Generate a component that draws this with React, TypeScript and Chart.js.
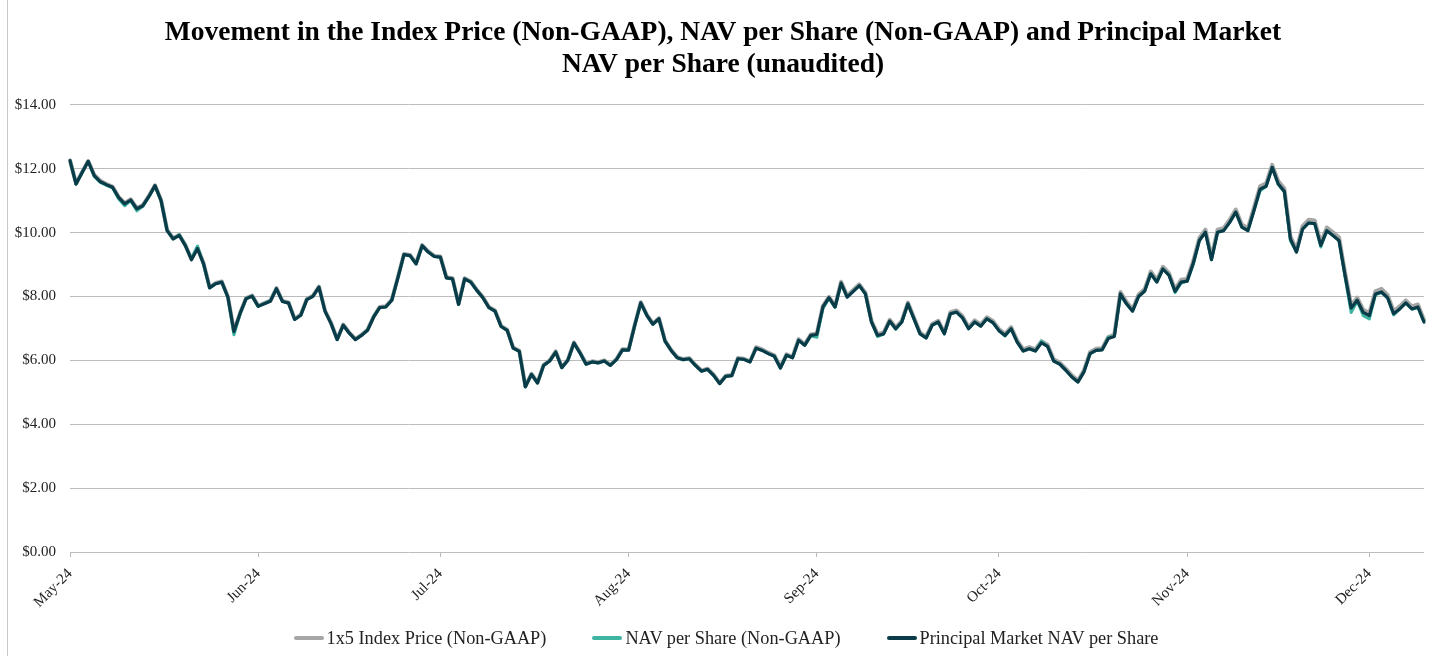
import React, { useEffect, useRef } from "react";
import { Chart, registerables } from "chart.js";

Chart.register(...registerables);

const TITLE_LINES = [
  "Movement in the Index Price (Non-GAAP), NAV per Share (Non-GAAP) and Principal Market",
  "NAV per Share (unaudited)",
];
const SERIES_NAMES = [
  "1x5 Index Price (Non-GAAP)",
  "NAV per Share (Non-GAAP)",
  "Principal Market NAV per Share",
];
const START_DATE = "2024-05-01";
const MONTH_TICK_LABELS = ["May-24", "Jun-24", "Jul-24", "Aug-24", "Sep-24", "Oct-24", "Nov-24", "Dec-24"];
const Y_MIN = 0;
const Y_MAX = 14;
const Y_STEP = 2;

const INDEX_PRICE = [
  12.26, 11.54, 11.90, 12.24, 11.80, 11.62, 11.52, 11.44, 11.12, 10.93,
  11.04, 10.77, 10.86, 11.15, 11.48, 11.02, 10.08, 9.82, 9.93, 9.61,
  9.17, 9.52, 9.04, 8.29, 8.42, 8.47, 8.00, 6.92, 7.48, 7.95,
  8.03, 7.71, 7.79, 7.87, 8.26, 7.86, 7.81, 7.30, 7.43, 7.92,
  8.02, 8.31, 7.56, 7.17, 6.67, 7.12, 6.87, 6.67, 6.80, 6.96,
  7.37, 7.67, 7.69, 7.90, 8.60, 9.33, 9.30, 9.04, 9.61, 9.41,
  9.27, 9.25, 8.60, 8.57, 7.77, 8.57, 8.47, 8.21, 7.98, 7.67,
  7.56, 7.08, 6.96, 6.40, 6.30, 5.19, 5.58, 5.31, 5.86, 6.00,
  6.28, 5.79, 6.02, 6.56, 6.25, 5.90, 5.97, 5.94, 6.00, 5.86,
  6.04, 6.35, 6.34, 7.11, 7.82, 7.43, 7.15, 7.32, 6.62, 6.33,
  6.10, 6.04, 6.07, 5.86, 5.68, 5.74, 5.55, 5.29, 5.52, 5.54,
  6.07, 6.05, 5.97, 6.41, 6.34, 6.24, 6.16, 5.79, 6.19, 6.11,
  6.66, 6.50, 6.81, 6.84, 7.70, 7.99, 7.70, 8.46, 8.02, 8.20,
  8.38, 8.12, 7.24, 6.82, 6.87, 7.27, 7.03, 7.24, 7.81, 7.34,
  6.87, 6.74, 7.14, 7.24, 6.87, 7.51, 7.56, 7.38, 7.04, 7.25,
  7.12, 7.35, 7.23, 6.98, 6.83, 7.04, 6.62, 6.34, 6.41, 6.34,
  6.60, 6.49, 6.03, 5.93, 5.74, 5.53, 5.37, 5.69, 6.26, 6.36,
  6.38, 6.73, 6.81, 8.14, 7.83, 7.60, 8.06, 8.23, 8.78, 8.52,
  8.93, 8.73, 8.23, 8.52, 8.55, 9.11, 9.83, 10.09, 9.23, 10.09,
  10.14, 10.40, 10.72, 10.25, 10.14, 10.78, 11.45, 11.54, 12.12, 11.61,
  11.38, 9.88, 9.47, 10.20, 10.40, 10.38, 9.69, 10.16, 10.01, 9.85,
  8.75, 7.72, 7.96, 7.58, 7.48, 8.16, 8.24, 8.05, 7.54, 7.69,
  7.88, 7.69, 7.75, 7.26,
];

const NAV_PER_SHARE = [
  12.25, 11.52, 11.88, 12.23, 11.75, 11.57, 11.48, 11.40, 11.06, 10.84,
  11.00, 10.68, 10.82, 11.12, 11.46, 11.00, 10.06, 9.80, 9.93, 9.60,
  9.18, 9.58, 9.00, 8.27, 8.40, 8.45, 7.98, 6.80, 7.44, 7.93,
  8.01, 7.69, 7.78, 7.87, 8.24, 7.84, 7.80, 7.28, 7.41, 7.90,
  8.00, 8.29, 7.54, 7.15, 6.65, 7.10, 6.85, 6.65, 6.78, 6.94,
  7.37, 7.65, 7.67, 7.88, 8.58, 9.31, 9.28, 9.02, 9.59, 9.39,
  9.25, 9.23, 8.58, 8.55, 7.75, 8.55, 8.45, 8.19, 7.96, 7.65,
  7.54, 7.06, 6.94, 6.38, 6.28, 5.17, 5.56, 5.29, 5.84, 5.98,
  6.26, 5.77, 6.00, 6.54, 6.23, 5.88, 5.95, 5.92, 5.98, 5.84,
  6.02, 6.33, 6.32, 7.09, 7.80, 7.41, 7.13, 7.30, 6.60, 6.31,
  6.08, 6.02, 6.05, 5.84, 5.66, 5.72, 5.53, 5.27, 5.50, 5.52,
  6.05, 6.03, 5.95, 6.38, 6.31, 6.21, 6.13, 5.76, 6.16, 6.08,
  6.63, 6.47, 6.76, 6.72, 7.62, 7.94, 7.66, 8.40, 7.98, 8.16,
  8.34, 8.08, 7.20, 6.74, 6.82, 7.22, 6.97, 7.20, 7.77, 7.30,
  6.83, 6.70, 7.10, 7.18, 6.83, 7.46, 7.51, 7.33, 6.99, 7.20,
  7.07, 7.30, 7.18, 6.93, 6.76, 6.99, 6.57, 6.29, 6.36, 6.29,
  6.60, 6.44, 5.98, 5.88, 5.69, 5.48, 5.32, 5.64, 6.21, 6.31,
  6.33, 6.72, 6.75, 8.02, 7.77, 7.54, 8.00, 8.17, 8.71, 8.45,
  8.86, 8.68, 8.12, 8.42, 8.48, 9.00, 9.75, 10.01, 9.15, 10.01,
  10.06, 10.32, 10.64, 10.17, 10.06, 10.69, 11.30, 11.45, 12.04, 11.50,
  11.27, 9.74, 9.39, 10.11, 10.30, 10.28, 9.55, 10.06, 9.91, 9.75,
  8.60, 7.50, 7.85, 7.40, 7.30, 8.05, 8.12, 7.96, 7.42, 7.61,
  7.80, 7.60, 7.65, 7.20,
];

const PRINCIPAL_MARKET_NAV = [
  12.25, 11.52, 11.88, 12.23, 11.78, 11.59, 11.50, 11.42, 11.10, 10.90,
  11.02, 10.74, 10.84, 11.13, 11.47, 11.00, 10.06, 9.80, 9.91, 9.59,
  9.15, 9.50, 9.02, 8.27, 8.40, 8.45, 7.98, 6.90, 7.46, 7.93,
  8.01, 7.69, 7.77, 7.85, 8.24, 7.84, 7.79, 7.28, 7.41, 7.90,
  8.00, 8.29, 7.54, 7.15, 6.65, 7.10, 6.85, 6.65, 6.78, 6.94,
  7.35, 7.65, 7.67, 7.88, 8.58, 9.31, 9.28, 9.02, 9.59, 9.39,
  9.25, 9.23, 8.58, 8.55, 7.75, 8.55, 8.45, 8.19, 7.96, 7.65,
  7.54, 7.06, 6.94, 6.38, 6.28, 5.17, 5.56, 5.29, 5.84, 5.98,
  6.26, 5.77, 6.00, 6.54, 6.23, 5.88, 5.95, 5.92, 5.98, 5.84,
  6.02, 6.33, 6.32, 7.09, 7.80, 7.41, 7.13, 7.30, 6.60, 6.31,
  6.08, 6.02, 6.05, 5.84, 5.66, 5.72, 5.53, 5.27, 5.50, 5.52,
  6.05, 6.03, 5.95, 6.38, 6.31, 6.21, 6.13, 5.76, 6.16, 6.08,
  6.63, 6.47, 6.78, 6.81, 7.67, 7.96, 7.67, 8.42, 7.98, 8.16,
  8.34, 8.08, 7.20, 6.78, 6.83, 7.23, 6.99, 7.20, 7.77, 7.30,
  6.83, 6.70, 7.10, 7.20, 6.83, 7.46, 7.51, 7.33, 6.99, 7.20,
  7.07, 7.30, 7.18, 6.93, 6.78, 6.99, 6.57, 6.29, 6.36, 6.29,
  6.55, 6.44, 5.98, 5.88, 5.69, 5.48, 5.32, 5.64, 6.21, 6.31,
  6.33, 6.68, 6.75, 8.08, 7.77, 7.54, 8.00, 8.17, 8.71, 8.45,
  8.86, 8.66, 8.16, 8.45, 8.48, 9.04, 9.75, 10.01, 9.15, 10.01,
  10.06, 10.32, 10.64, 10.17, 10.06, 10.69, 11.36, 11.45, 12.04, 11.52,
  11.29, 9.80, 9.39, 10.11, 10.30, 10.28, 9.60, 10.06, 9.91, 9.75,
  8.66, 7.64, 7.88, 7.50, 7.40, 8.08, 8.14, 7.96, 7.46, 7.61,
  7.80, 7.61, 7.67, 7.20,
];

const SERIF = "'Liberation Serif', 'Times New Roman', 'DejaVu Serif', serif";
const SERIES_COLORS = ["#a6a6a6", "#3db5a1", "#0a3b49"];
const SERIES_WIDTHS = [4, 3, 3.2];

function buildDates(n: number): string[] {
  const start = new Date(START_DATE + "T00:00:00Z").getTime();
  const out: string[] = [];
  for (let i = 0; i < n; i++) {
    out.push(new Date(start + i * 86400000).toISOString().slice(0, 10));
  }
  return out;
}

export default function App() {
  const canvasRef = useRef<HTMLCanvasElement | null>(null);

  useEffect(() => {
    if (!canvasRef.current) return;
    const dates = buildDates(PRINCIPAL_MARKET_NAV.length);
    const startMonth = 5;
    const isMonthStart = (i: number) => !!dates[i] && dates[i].endsWith("-01");
    const monthLabel = (i: number) => {
      const m = parseInt(dates[i].slice(5, 7), 10);
      return MONTH_TICK_LABELS[m - startMonth] || "";
    };
    const seriesData = [INDEX_PRICE, NAV_PER_SHARE, PRINCIPAL_MARKET_NAV];

    const chart = new Chart(canvasRef.current, {
      type: "line",
      data: {
        labels: dates,
        datasets: seriesData.map((d, k) => ({
          label: SERIES_NAMES[k],
          data: d,
          borderColor: SERIES_COLORS[k],
          backgroundColor: SERIES_COLORS[k],
          borderWidth: SERIES_WIDTHS[k],
          order: 3 - k,
        })),
      },
      options: {
        animation: false,
        responsive: true,
        maintainAspectRatio: false,
        elements: {
          point: { radius: 0, hoverRadius: 0 },
          line: { tension: 0, borderJoinStyle: "round", borderCapStyle: "round" },
        },
        layout: { padding: { left: 6, right: 0, top: 0, bottom: 0 } },
        scales: {
          x: {
            type: "category",
            offset: false,
            border: { display: false },
            grid: {
              display: true,
              drawOnChartArea: false,
              drawTicks: true,
              tickLength: 5,
              color: (ctx: any) => (isMonthStart(ctx.index) ? "#b8b8b8" : "rgba(0,0,0,0)"),
            },
            ticks: {
              autoSkip: false,
              maxRotation: 45,
              minRotation: 45,
              padding: 8,
              color: "#222",
              font: { family: SERIF, size: 15 },
              callback: (_v: any, i: number) => (isMonthStart(i) ? monthLabel(i) : ""),
            },
            afterFit: (scale: any) => {
              scale.height = 96;
              scale.paddingLeft = 0;
              scale.paddingRight = 8;
            },
          },
          y: {
            min: Y_MIN,
            max: Y_MAX,
            border: { display: false },
            grid: { color: "#bcbcbc", lineWidth: 1, drawTicks: false },
            ticks: {
              stepSize: Y_STEP,
              padding: 14,
              color: "#222",
              font: { family: SERIF, size: 15 },
              callback: (v: any) => "$" + Number(v).toFixed(2),
            },
            afterFit: (scale: any) => {
              scale.width = 56;
            },
          },
        },
        plugins: {
          title: {
            display: true,
            text: TITLE_LINES,
            color: "#000",
            font: { family: SERIF, size: 27.5, weight: "bold", lineHeight: 1.16 },
            padding: { top: 9, bottom: 24 },
          },
          legend: { display: false },
          tooltip: { enabled: false },
        },
      } as any,
    });
    return () => chart.destroy();
  }, []);

  return (
    <>
      <div
        style={{
          position: "fixed",
          left: 7,
          top: 0,
          width: 1,
          height: 656,
          background: "#c8c8c8",
        }}
      />
      <div style={{ position: "relative", width: 1424, height: 640 }}>
        <canvas ref={canvasRef} />
        <div
          style={{
            position: "absolute",
            left: 12,
            right: 0,
            top: 619,
            height: 22,
            display: "flex",
            justifyContent: "center",
            alignItems: "center",
            gap: 46,
            fontFamily: SERIF,
            fontSize: 18.3,
            color: "#222",
            whiteSpace: "nowrap",
          }}
        >
          {SERIES_NAMES.map((name, k) => (
            <div key={name} style={{ display: "flex", alignItems: "center" }}>
              <span
                style={{
                  display: "inline-block",
                  width: 30,
                  height: 4,
                  borderRadius: 2,
                  background: SERIES_COLORS[k],
                  marginRight: 3,
                }}
              />
              <span>{name}</span>
            </div>
          ))}
        </div>
      </div>
    </>
  );
}
